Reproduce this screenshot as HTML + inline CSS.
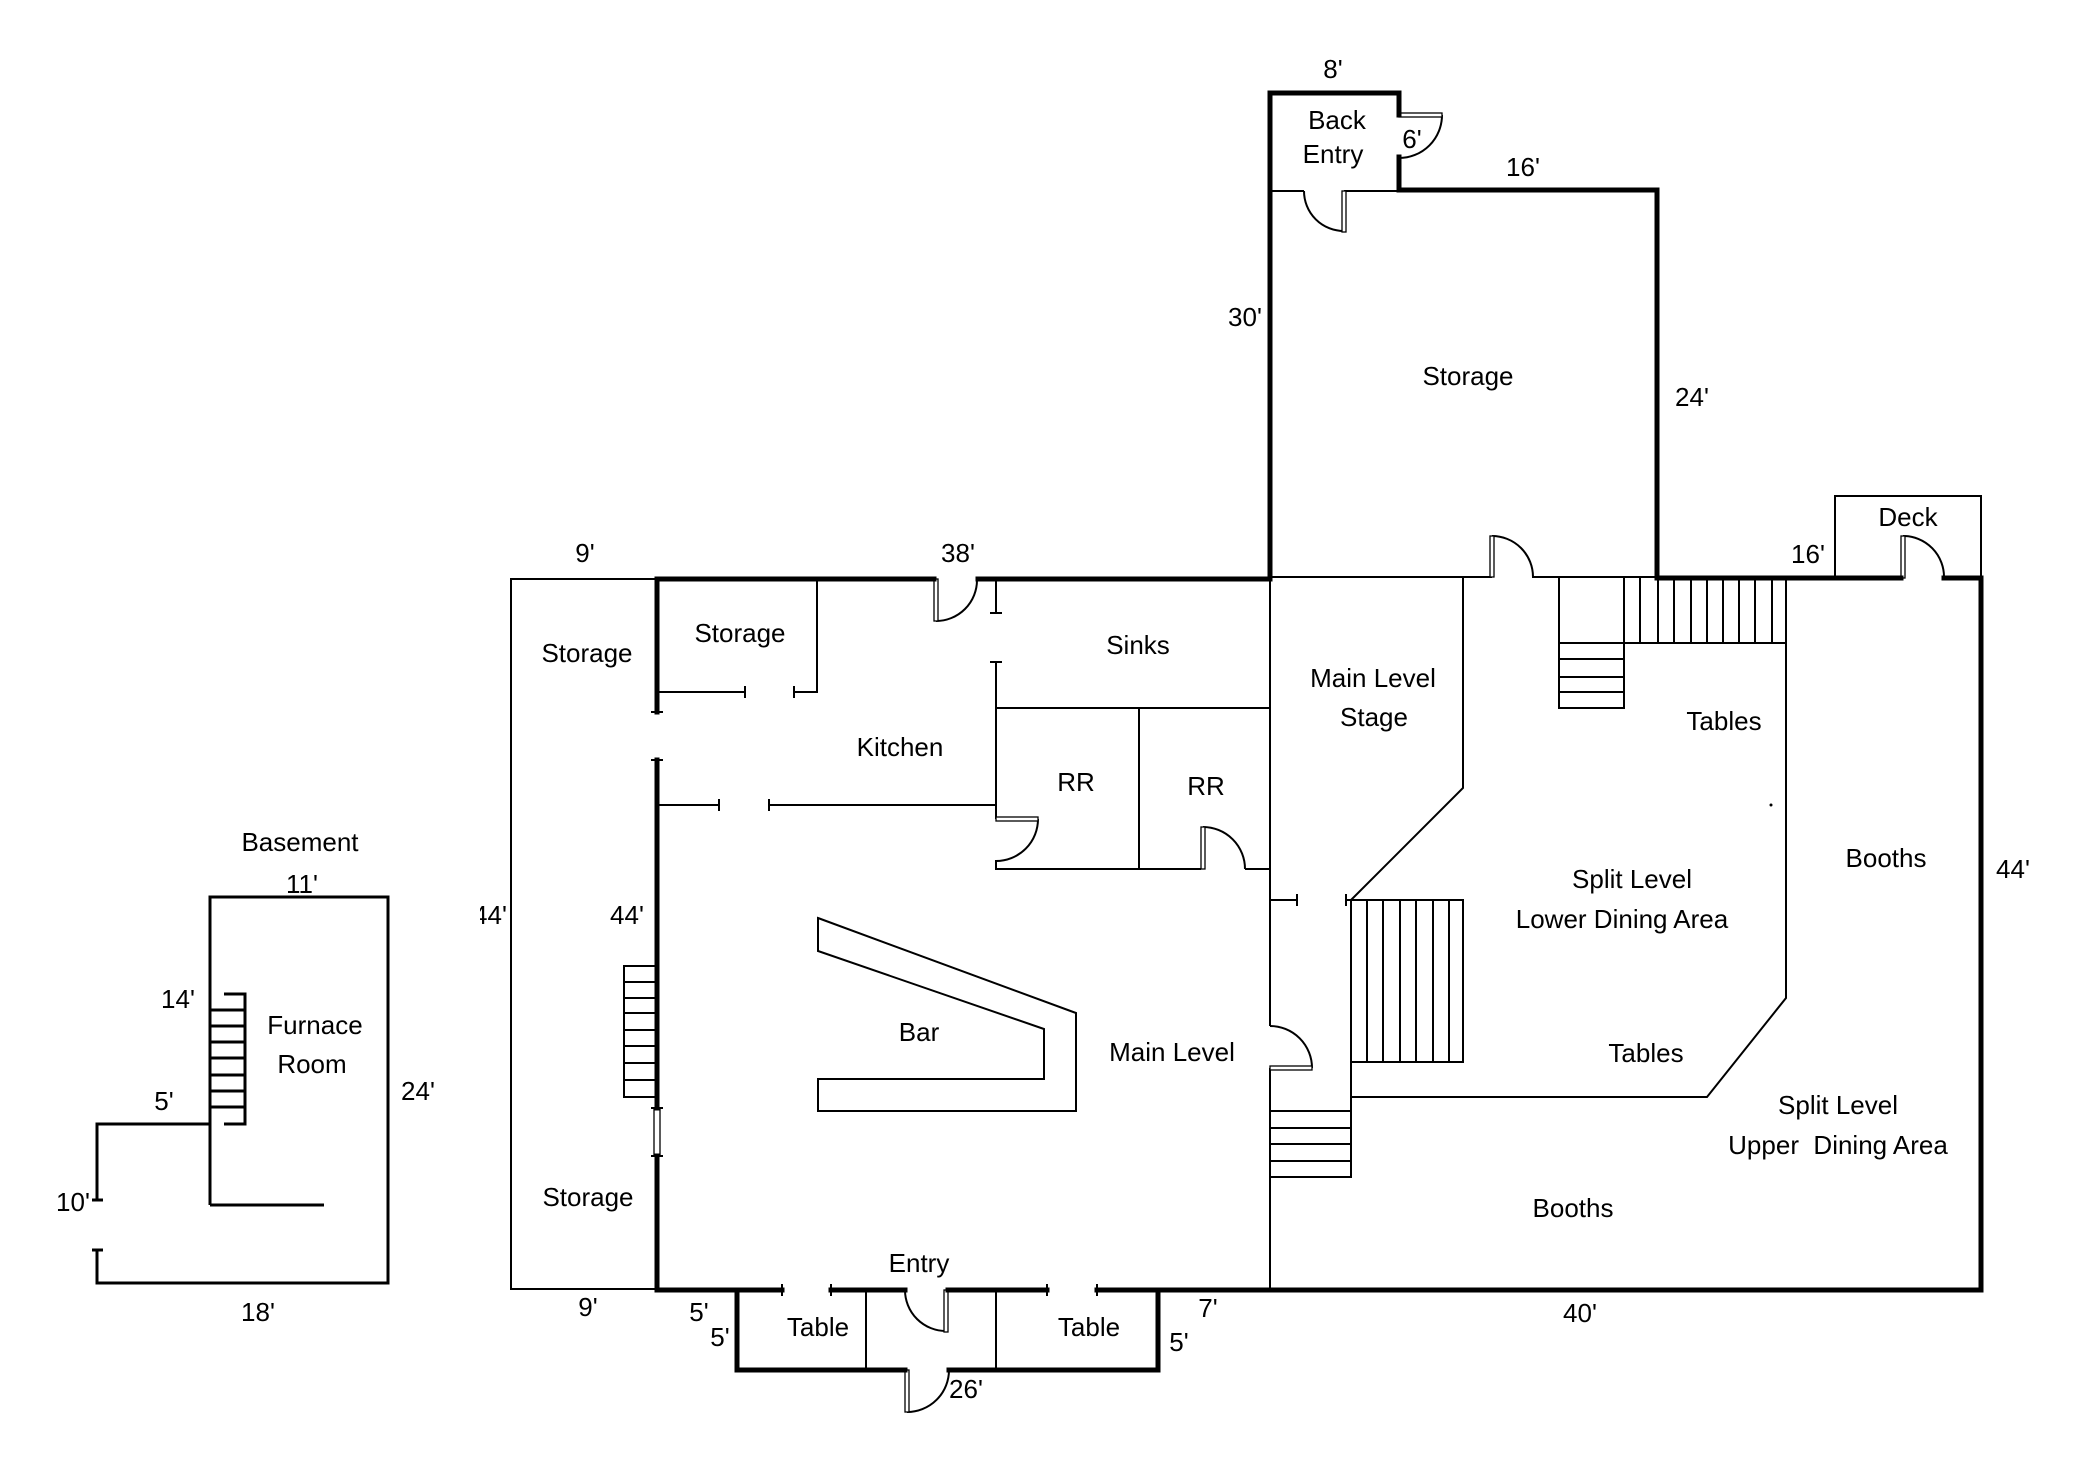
<!DOCTYPE html>
<html>
<head>
<meta charset="utf-8">
<style>
html,body{margin:0;padding:0;background:#fff;}
svg{display:block;}
text{font-family:"Liberation Sans",Arial,sans-serif;font-size:26px;fill:#000;}
</style>
</head>
<body>
<svg width="2080" height="1469" viewBox="0 0 2080 1469" xmlns="http://www.w3.org/2000/svg">
<defs>
<clipPath id="c44"><rect x="480" y="880" width="60" height="60"/></clipPath>
</defs>
<rect width="2080" height="1469" fill="#fff"/>

<!-- BASEMENT -->
<g stroke="#000" stroke-width="3" fill="none">
<path d="M210,1205 V897 H388 V1283 H97 V1250"/>
<path d="M92,1250 H103"/>
<path d="M210,1205 H324"/>
<path d="M210,1124 H97 V1200"/>
<path d="M92,1200 H103"/>
<path d="M224,994 H245 V1124 H224"/>
<path d="M210,1010 H245 M210,1026 H245 M210,1042 H245 M210,1058 H245 M210,1075 H245 M210,1091 H245 M210,1107 H245"/>
</g>

<!-- THIN WALLS -->
<g stroke="#000" stroke-width="2" fill="none">
<!-- left storage -->
<path d="M511,579 H657 M511,578 V1289 H657"/>
<path d="M651,712 H663 M651,760 H663 M651,1108 H663 M651,1156 H663"/>
<path d="M782,1284 V1296 M831,1284 V1296 M1047,1284 V1296 M1097,1284 V1296"/>
<!-- kitchen -->
<path d="M996,581 V613 M990,613 H1002"/>
<path d="M817,579 V692 H794 M794,686 V698 M657,692 H745 M745,686 V698"/>
<path d="M657,805 H719 M719,799 V811 M769,799 V811 M769,805 H996"/>
<path d="M990,662 H1002 M996,662 V819"/>
<path d="M1038,819 A42,42 0 0 1 996,861"/>
<path d="M996,860 V869 H1201 M1245,869 H1270"/>
<path d="M996,708 H1270 M1139,708 V869"/>
<path d="M1203,827 A42,42 0 0 1 1245,869"/>
<!-- stage -->
<path d="M1270,579 V1026"/>
<path d="M1270,1026 A42,42 0 0 1 1312,1068"/>
<path d="M1270,1068 V1290"/>
<path d="M1270,900 H1297 M1297,894 V906"/>
<path d="M1346,894 V906 M1346,900 H1351"/>
<path d="M1270,577 H1492 M1532,577 H1657"/>
<path d="M1492,536 A41,41 0 0 1 1533,577"/>
<path d="M1463,577 V788 L1351,900"/>
<path d="M1351,900 H1463 V1062 H1351"/>
<path d="M1367,900 V1062 M1383,900 V1062 M1400,900 V1062 M1416,900 V1062 M1433,900 V1062 M1449,900 V1062"/>
<path d="M1351,900 V1177 H1270"/>
<path d="M1270,1111 H1351 M1270,1128 H1351 M1270,1144 H1351 M1270,1161 H1351"/>
<path d="M1351,1097 H1707 L1786,998 V578"/>
<!-- upper stairs -->
<path d="M1559,578 V708 H1624 V578"/>
<path d="M1559,643 H1786 M1559,659 H1624 M1559,677 H1624 M1559,692 H1624"/>
<path d="M1640,578 V643 M1658,578 V643 M1674,578 V643 M1691,578 V643 M1707,578 V643 M1723,578 V643 M1739,578 V643 M1755,578 V643 M1772,578 V643"/>
<!-- deck -->
<path d="M1835,578 V496 H1981 V578"/>
<path d="M1903,536 A41,41 0 0 1 1944,578"/>
<!-- back entry -->
<path d="M1270,191 H1304 M1344,191 H1399"/>
<path d="M1304,191 A40,40 0 0 0 1344,231"/>
<path d="M1442,115 A43,43 0 0 1 1399,158"/>
<!-- kitchen top door -->
<path d="M936,621 A41,41 0 0 0 977,580"/>
<!-- entry doors -->
<path d="M905,1290 A41,41 0 0 0 946,1331"/>
<path d="M907,1412 A42,42 0 0 0 949,1370"/>
<path d="M866,1290 V1370 M996,1290 V1370"/>
<!-- left stairs -->
<path d="M657,966 H624 V1097 H657"/>
<path d="M624,982 H657 M624,998 H657 M624,1013 H657 M624,1030 H657 M624,1046 H657 M624,1063 H657 M624,1080 H657"/>
<!-- bar -->
<path d="M818,918 L1076,1013 V1111 H818 V1079 H1044 V1029 L818,951 Z"/>
</g>

<!-- door leaves / window (double lines) -->
<g stroke="#000" stroke-width="1.3" fill="#fff">
<rect x="934" y="579" width="4" height="42"/>
<rect x="996" y="817" width="42" height="4"/>
<rect x="1201" y="827" width="4" height="42"/>
<rect x="1270" y="1066" width="42" height="4"/>
<rect x="1490" y="536" width="4" height="41"/>
<rect x="1901" y="536" width="4" height="42"/>
<rect x="1342" y="191" width="4" height="41"/>
<rect x="1399" y="113" width="43" height="4"/>
<rect x="944" y="1290" width="4" height="42"/>
<rect x="905" y="1370" width="4" height="42"/>
<rect x="654" y="1108" width="6" height="48"/>
</g>

<!-- THICK WALLS -->
<g stroke="#000" stroke-width="5" fill="none" stroke-linecap="square">
<path d="M1270,93 V579"/>
<path d="M1270,93 H1399 V115"/>
<path d="M1399,157 V190 H1657 V578"/>
<path d="M657,579 H934"/>
<path d="M978,579 H1270"/>
<path d="M657,579 V712"/>
<path d="M657,760 V1108"/>
<path d="M657,1156 V1290 H782"/>
<path d="M831,1290 H905"/>
<path d="M948,1290 H1047"/>
<path d="M1097,1290 H1981 V578 H1944"/>
<path d="M1901,578 H1657"/>
<path d="M737,1290 V1370 H905"/>
<path d="M949,1370 H1158 V1290"/>
</g>

<circle cx="1771" cy="805" r="1.5" fill="#000"/>

<!-- LABELS -->
<g text-anchor="middle">
<text x="300" y="851">Basement</text>
<text x="302" y="893">11'</text>
<text x="178" y="1008">14'</text>
<text x="315" y="1034">Furnace</text>
<text x="312" y="1073">Room</text>
<text x="164" y="1110">5'</text>
<text x="73" y="1211">10'</text>
<text x="258" y="1321">18'</text>
<text x="418" y="1100">24'</text>

<text x="1333" y="78">8'</text>
<text x="1337" y="129">Back</text>
<text x="1333" y="163">Entry</text>
<text x="1412" y="148">6'</text>
<text x="1523" y="176">16'</text>
<text x="1245" y="326">30'</text>
<text x="1468" y="385">Storage</text>
<text x="1692" y="406">24'</text>

<text x="585" y="562">9'</text>
<text x="958" y="562">38'</text>
<text x="587" y="662">Storage</text>
<text x="740" y="642">Storage</text>
<text x="1138" y="654">Sinks</text>
<text x="900" y="756">Kitchen</text>
<text x="1076" y="791">RR</text>
<text x="1206" y="795">RR</text>

<text x="1373" y="687">Main Level</text>
<text x="1374" y="726">Stage</text>
<text x="1724" y="730">Tables</text>
<text x="1808" y="563">16'</text>
<text x="1908" y="526">Deck</text>

<text x="1632" y="888">Split Level</text>
<text x="1622" y="928">Lower Dining Area</text>
<text x="1886" y="867">Booths</text>
<text x="2013" y="878">44'</text>

<text x="490" y="924" clip-path="url(#c44)">44'</text>
<text x="627" y="924">44'</text>
<text x="919" y="1041">Bar</text>
<text x="1172" y="1061">Main Level</text>
<text x="1646" y="1062">Tables</text>

<text x="1838" y="1114">Split Level</text>
<text x="1838" y="1154" xml:space="preserve">Upper  Dining Area</text>

<text x="588" y="1206">Storage</text>
<text x="1573" y="1217">Booths</text>
<text x="919" y="1272">Entry</text>
<text x="588" y="1316">9'</text>
<text x="699" y="1321">5'</text>
<text x="720" y="1346">5'</text>
<text x="818" y="1336">Table</text>
<text x="1089" y="1336">Table</text>
<text x="1208" y="1317">7'</text>
<text x="1179" y="1351">5'</text>
<text x="966" y="1398">26'</text>
<text x="1580" y="1322">40'</text>
</g>
</svg>
</body>
</html>
